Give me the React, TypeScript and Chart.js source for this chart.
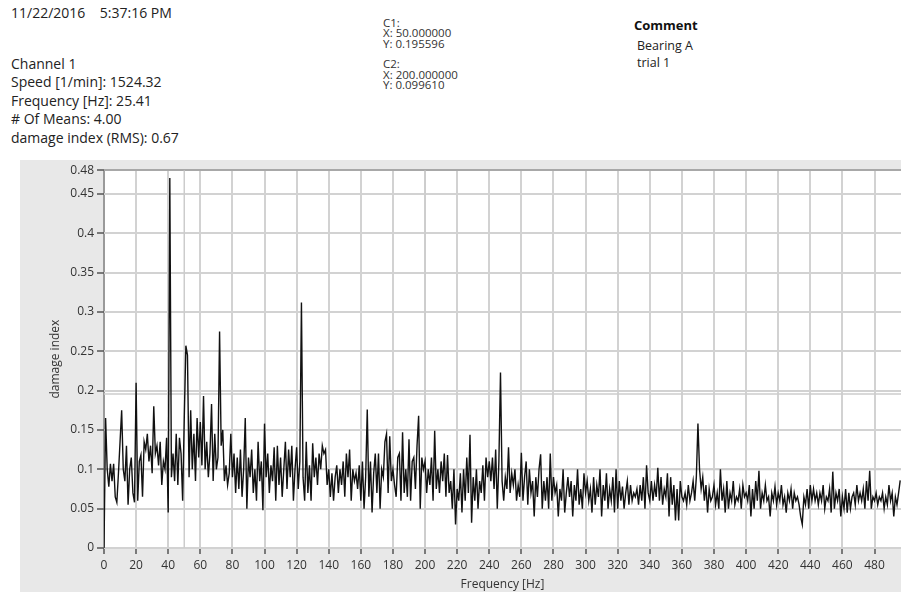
import React, { useEffect, useRef } from "react";
import { Chart, registerables } from "chart.js";

Chart.register(...registerables);

// Spectrum: damage index per frequency bin (1 Hz bins starting at 0 Hz)
const FREQUENCY_STEP_HZ = 1;
const DAMAGE_INDEX: number[] = [
  // 0-19 Hz
  0.0, 0.165, 0.1, 0.078, 0.107, 0.085, 0.107, 0.065, 0.058, 0.095, 0.135, 0.175, 0.1, 0.085, 0.13, 0.055, 0.1, 0.115, 0.07, 0.058,
  // 20-39
  0.21, 0.06, 0.11, 0.118, 0.065, 0.135, 0.125, 0.145, 0.11, 0.13, 0.095, 0.18, 0.12, 0.13, 0.105, 0.135, 0.08, 0.11, 0.1, 0.14,
  // 40-59
  0.045, 0.47, 0.09, 0.12, 0.085, 0.145, 0.08, 0.14, 0.12, 0.06, 0.165, 0.257, 0.245, 0.09, 0.175, 0.1, 0.145, 0.085, 0.165, 0.115,
  // 60-79
  0.16, 0.105, 0.193, 0.1, 0.135, 0.09, 0.12, 0.183, 0.085, 0.145, 0.1, 0.115, 0.275, 0.13, 0.15, 0.085, 0.105, 0.08, 0.095, 0.145,
  // 80-99
  0.09, 0.12, 0.07, 0.115, 0.075, 0.125, 0.065, 0.1, 0.165, 0.05, 0.115, 0.09, 0.125, 0.07, 0.1, 0.06, 0.135, 0.085, 0.11, 0.048,
  // 100-119
  0.158, 0.09, 0.12, 0.07, 0.105, 0.085, 0.128, 0.06, 0.13, 0.08, 0.115, 0.065, 0.1, 0.135, 0.075, 0.125, 0.09, 0.13, 0.06, 0.1,
  // 120-139
  0.128, 0.075, 0.11, 0.312, 0.09, 0.06, 0.135, 0.07, 0.105, 0.06, 0.133, 0.09, 0.115, 0.08, 0.12, 0.1, 0.13, 0.12, 0.125, 0.08,
  // 140-159
  0.1, 0.065, 0.095, 0.06, 0.09, 0.105, 0.07, 0.1, 0.08, 0.11, 0.065, 0.12, 0.09, 0.125, 0.06, 0.1, 0.085, 0.095, 0.075, 0.105,
  // 160-179
  0.06, 0.11, 0.05, 0.09, 0.176, 0.065, 0.11, 0.045, 0.095, 0.12, 0.07, 0.12, 0.05, 0.1, 0.09, 0.135, 0.145, 0.07, 0.142, 0.085,
  // 180-199
  0.1, 0.08, 0.065, 0.115, 0.12, 0.06, 0.147, 0.07, 0.1, 0.065, 0.138, 0.06, 0.11, 0.115, 0.075, 0.13, 0.168, 0.05, 0.115, 0.1,
  // 200-219
  0.11, 0.07, 0.1, 0.08, 0.115, 0.06, 0.149, 0.075, 0.1, 0.07, 0.11, 0.085, 0.12, 0.065, 0.118, 0.07, 0.085, 0.05, 0.1, 0.03,
  // 220-239
  0.075, 0.06, 0.095, 0.045, 0.1, 0.06, 0.115, 0.07, 0.144, 0.032, 0.09, 0.06, 0.1, 0.05, 0.085, 0.07, 0.105, 0.06, 0.115, 0.09,
  // 240-259
  0.11, 0.085, 0.115, 0.075, 0.125, 0.05, 0.11, 0.223, 0.085, 0.06, 0.09, 0.075, 0.128, 0.07, 0.095, 0.08, 0.1, 0.06, 0.08, 0.065,
  // 260-279
  0.121, 0.06, 0.09, 0.11, 0.055, 0.1, 0.07, 0.085, 0.04, 0.09, 0.065, 0.1, 0.119, 0.05, 0.085, 0.06, 0.09, 0.05, 0.12, 0.06,
  // 280-299
  0.09, 0.07, 0.08, 0.04, 0.075, 0.06, 0.1, 0.045, 0.07, 0.09, 0.065, 0.085, 0.04, 0.08, 0.06, 0.1, 0.055, 0.075, 0.05, 0.095,
  // 300-319
  0.07, 0.085, 0.06, 0.075, 0.045, 0.09, 0.055, 0.08, 0.065, 0.1, 0.04, 0.08, 0.06, 0.095, 0.05, 0.075, 0.06, 0.09, 0.045, 0.1,
  // 320-339
  0.05, 0.085, 0.06, 0.078, 0.05, 0.07, 0.085, 0.055, 0.08, 0.06, 0.07, 0.065, 0.075, 0.055, 0.08, 0.06, 0.09, 0.05, 0.105, 0.07,
  // 340-359
  0.06, 0.085, 0.06, 0.08, 0.065, 0.102, 0.06, 0.09, 0.055, 0.075, 0.065, 0.095, 0.04, 0.09, 0.055, 0.08, 0.035, 0.075, 0.035, 0.085,
  // 360-379
  0.065, 0.06, 0.07, 0.055, 0.08, 0.06, 0.07, 0.085, 0.06, 0.09, 0.158, 0.1, 0.075, 0.09, 0.06, 0.08, 0.045, 0.075, 0.06, 0.065,
  // 380-399
  0.08, 0.055, 0.07, 0.05, 0.1, 0.06, 0.075, 0.045, 0.085, 0.05, 0.07, 0.06, 0.085, 0.055, 0.065, 0.06, 0.075, 0.05, 0.08, 0.065,
  // 400-419
  0.07, 0.06, 0.08, 0.04, 0.075, 0.05, 0.085, 0.06, 0.098, 0.05, 0.07, 0.06, 0.08, 0.06, 0.065, 0.04, 0.07, 0.06, 0.078, 0.055,
  // 420-439
  0.07, 0.06, 0.08, 0.055, 0.065, 0.045, 0.07, 0.06, 0.075, 0.05, 0.07, 0.06, 0.065, 0.055, 0.04, 0.03, 0.065, 0.055, 0.075, 0.05,
  // 440-459
  0.08, 0.06, 0.075, 0.06, 0.07, 0.055, 0.07, 0.06, 0.08, 0.05, 0.065, 0.06, 0.075, 0.045, 0.097, 0.05, 0.07, 0.06, 0.075, 0.04,
  // 460-479
  0.065, 0.05, 0.075, 0.045, 0.07, 0.05, 0.065, 0.07, 0.055, 0.08, 0.06, 0.07, 0.06, 0.075, 0.05, 0.085, 0.06, 0.098, 0.05, 0.065,
  // 480-496
  0.06, 0.07, 0.055, 0.065, 0.06, 0.07, 0.05, 0.065, 0.055, 0.08, 0.06, 0.07, 0.04, 0.065, 0.055, 0.07, 0.086,
];

const X_TICKS = [0, 20, 40, 60, 80, 100, 120, 140, 160, 180, 200, 220, 240, 260, 280, 300, 320, 340, 360, 380, 400, 420, 440, 460, 480];
const Y_TICKS = [0, 0.05, 0.1, 0.15, 0.2, 0.25, 0.3, 0.35, 0.4, 0.45, 0.48];
const X_MIN = 0;
const X_MAX = 496.5;
const Y_MIN = 0;
const Y_MAX = 0.48;

// Cursors
const CURSOR_C1 = { x: 50.0, y: 0.195596 };
const CURSOR_C2 = { x: 200.0, y: 0.099610 };

const HEADER_LINES = [
  "Channel 1",
  "Speed [1/min]: 1524.32",
  "Frequency [Hz]: 25.41",
  "# Of Means: 4.00",
  "damage index (RMS): 0.67",
];
const CURSOR_LINES = ["C1:", "X: 50.000000", "Y: 0.195596", "", "C2:", "X: 200.000000", "Y: 0.099610"];
const COMMENT_LINES = ["Bearing A", "trial 1"];

const FONT = "'Open Sans', 'Noto Sans', sans-serif";

export default function App() {
  const canvasRef = useRef<HTMLCanvasElement | null>(null);

  useEffect(() => {
    const canvas = canvasRef.current;
    if (!canvas) return;

    const plotBg = {
      id: "plotBg",
      beforeDraw(chart: any) {
        const { ctx, chartArea } = chart;
        ctx.save();
        ctx.fillStyle = "#ffffff";
        ctx.fillRect(chartArea.left, chartArea.top, chartArea.right - chartArea.left, chartArea.bottom - chartArea.top);
        ctx.restore();
      },
    };

    const cursorColor = "#cccccc";
    const cursorDs = (pts: { x: number; y: number }[], label: string) => ({
      label,
      data: pts,
      borderColor: cursorColor,
      borderWidth: 1.5,
      pointRadius: 0,
      order: 2,
    });

    const chart = new Chart(canvas, {
      type: "line",
      data: {
        datasets: [
          {
            label: "damage index",
            data: DAMAGE_INDEX.map((v, i) => ({ x: i * FREQUENCY_STEP_HZ, y: v })),
            borderColor: "#111111",
            borderWidth: 1.4,
            pointRadius: 0,
            tension: 0,
            order: 1,
          },
          cursorDs([{ x: CURSOR_C1.x, y: Y_MIN }, { x: CURSOR_C1.x, y: Y_MAX }], "C1 x"),
          cursorDs([{ x: X_MIN, y: CURSOR_C1.y }, { x: X_MAX, y: CURSOR_C1.y }], "C1 y"),
          cursorDs([{ x: CURSOR_C2.x, y: Y_MIN }, { x: CURSOR_C2.x, y: Y_MAX }], "C2 x"),
          cursorDs([{ x: X_MIN, y: CURSOR_C2.y }, { x: X_MAX, y: CURSOR_C2.y }], "C2 y"),
        ],
      },
      options: {
        animation: false,
        responsive: false,
        maintainAspectRatio: false,
        layout: { padding: { left: 0, right: 0, top: 10, bottom: 0 } },
        plugins: {
          legend: { display: false },
          tooltip: { enabled: false },
        },
        scales: {
          x: {
            type: "linear",
            min: X_MIN,
            max: X_MAX,
            afterBuildTicks: (s: any) => {
              s.ticks = X_TICKS.map((v) => ({ value: v }));
            },
            afterFit: (s: any) => {
              s.height = 44;
            },
            ticks: {
              autoSkip: false,
              maxRotation: 0,
              minRotation: 0,
              padding: 4,
              color: "#333333",
              font: { family: FONT, size: 12 },
              callback: (v: any) => String(v),
            },
            grid: {
              color: (c: any) => (c.tick && c.tick.value === 0 ? "#9a9a9a" : "#d2d2d2"),
              lineWidth: 2,
              tickLength: 6,
              tickColor: "#555555",
              tickWidth: 1.5,
            },
            border: { display: false },
            title: {
              display: true,
              text: "Frequency [Hz]",
              color: "#333333",
              font: { family: FONT, size: 12 },
              padding: { top: 0, bottom: 0 },
            },
          },
          y: {
            type: "linear",
            min: Y_MIN,
            max: Y_MAX,
            afterBuildTicks: (s: any) => {
              s.ticks = Y_TICKS.map((v) => ({ value: v }));
            },
            afterFit: (s: any) => {
              s.width = 84;
            },
            ticks: {
              autoSkip: false,
              padding: 3,
              color: "#333333",
              font: { family: FONT, size: 12 },
              callback: (v: any) => String(Number(Number(v).toFixed(2))),
            },
            grid: {
              color: (c: any) => (c.tick && c.tick.value === Y_MAX ? "#a8a8a8" : "#d2d2d2"),
              lineWidth: 2,
              tickLength: 7,
              tickColor: "#555555",
              tickWidth: 1.5,
            },
            border: { display: false },
            title: {
              display: true,
              text: "damage index",
              color: "#333333",
              font: { family: FONT, size: 12 },
              padding: { top: 28, bottom: 0 },
            },
          },
        },
      },
      plugins: [plotBg],
    } as any);

    return () => chart.destroy();
  }, []);

  const textBase: React.CSSProperties = {
    position: "absolute",
    fontFamily: FONT,
    whiteSpace: "pre",
    color: "#222222",
  };

  return (
    <div
      style={{
        position: "absolute",
        left: 0,
        top: 0,
        width: 901,
        height: 592,
        overflow: "hidden",
        background: "#ffffff",
      }}
    >
      <div style={{ ...textBase, left: 11, top: 3, fontSize: 14, lineHeight: "19px" }}>
        11/22/2016    5:37:16 PM
      </div>
      {HEADER_LINES.map((t, i) => (
        <div key={t} style={{ ...textBase, left: 11, top: 53.5 + i * 18.5, fontSize: 14, lineHeight: "19px" }}>
          {t}
        </div>
      ))}
      {CURSOR_LINES.map((t, i) => (
        <div key={i} style={{ ...textBase, left: 383, top: 16 + i * 10.3, fontSize: 11.5, lineHeight: "13px", color: "#333333" }}>
          {t}
        </div>
      ))}
      <div style={{ ...textBase, left: 634, top: 16, fontSize: 13, fontWeight: 700, lineHeight: "18px", color: "#111111" }}>
        Comment
      </div>
      {COMMENT_LINES.map((t, i) => (
        <div key={t} style={{ ...textBase, left: 637, top: 37 + i * 16.5, fontSize: 12.5, lineHeight: "18px" }}>
          {t}
        </div>
      ))}
      <div
        style={{
          position: "absolute",
          left: 20,
          top: 160,
          width: 881,
          height: 432,
          background: "#e8e8e8",
        }}
      >
        <canvas ref={canvasRef} width={881} height={432} style={{ display: "block", width: 881, height: 432 }} />
      </div>
    </div>
  );
}
